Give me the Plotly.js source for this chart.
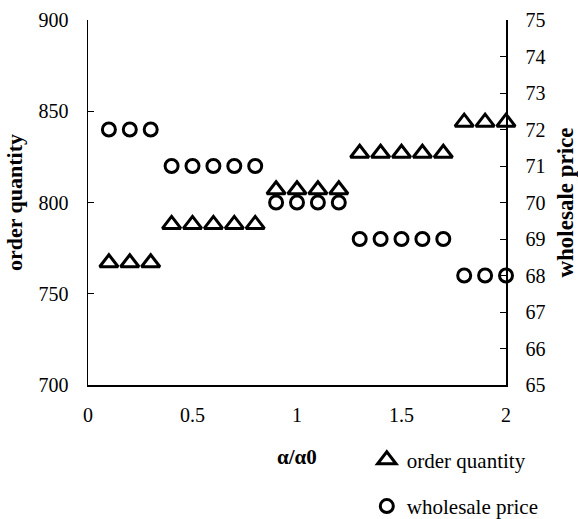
<!DOCTYPE html>
<html>
<head>
<meta charset="utf-8">
<script src="https://cdn.plot.ly/plotly-3.0.1.min.js"></script>
<style>html,body{margin:0;padding:0;background:#fff;}#chart{width:578px;height:519px;}</style>
</head>
<body>
<div id="chart"></div>
<script>
const ratio = [0.1, 0.2, 0.3, 0.4, 0.5, 0.6, 0.7, 0.8, 0.9, 1.0, 1.1, 1.2, 1.3, 1.4, 1.5, 1.6, 1.7, 1.8, 1.9, 2.0];
const orderQuantity = [767, 767, 767, 788, 788, 788, 788, 788, 807, 807, 807, 807, 827, 827, 827, 827, 827, 844, 844, 844];
const wholesalePrice = [72, 72, 72, 71, 71, 71, 71, 71, 70, 70, 70, 70, 69, 69, 69, 69, 69, 68, 68, 68];
const seriesNames = ["order quantity", "wholesale price"];
const xTitle = "α/α0";

const serif = "Liberation Serif, Times New Roman, serif";
const traces = [
  {
    x: ratio, y: orderQuantity, name: seriesNames[0], type: "scatter", mode: "markers",
    yaxis: "y", legendgroup: "a", cliponaxis: false,
    marker: {symbol: "triangle-up-open", size: 16, color: "#000", line: {width: 3, color: "#000"}}
  },
  {
    x: ratio, y: wholesalePrice, name: seriesNames[1], type: "scatter", mode: "markers",
    yaxis: "y2", legendgroup: "b", cliponaxis: false,
    marker: {symbol: "circle-open", size: 13, color: "#000", line: {width: 3, color: "#000"}}
  }
];
const layout = {
  width: 578, height: 519,
  margin: {l: 88, r: 72, t: 20, b: 134, autoexpand: false},
  paper_bgcolor: "#fff", plot_bgcolor: "#fff",
  font: {family: serif, size: 20, color: "#000"},
  showlegend: true,
  legend: {
    xref: "paper", yref: "container",
    x: 0.667, xanchor: "left", y: 0.153, yanchor: "top",
    font: {family: serif, size: 21, color: "#000"},
    tracegroupgap: 16, traceorder: "grouped", itemwidth: 30,
    bgcolor: "rgba(0,0,0,0)"
  },
  annotations: [{
    text: "<b>" + xTitle + "</b>", xref: "paper", yref: "paper",
    x: 0.5, y: -0.197, xanchor: "center", yanchor: "middle", showarrow: false,
    font: {family: serif, size: 21, color: "#000"}
  }],
  xaxis: {
    range: [0, 2], tickvals: [0, 0.5, 1, 1.5, 2], ticktext: ["0", "0.5", "1", "1.5", "2"],
    showgrid: false, zeroline: false, showline: true, linecolor: "#000", linewidth: 1.5,
    ticks: "", ticklabelstandoff: 11
  },
  yaxis: {
    range: [700, 900], tickvals: [700, 750, 800, 850, 900],
    showgrid: false, zeroline: false, showline: true, linecolor: "#000", linewidth: 1.5,
    ticks: "inside", ticklen: 6, tickcolor: "#000", ticklabelstandoff: 14,
    title: {text: "<b>order quantity</b>", font: {family: serif, size: 22}, standoff: 10}
  },
  yaxis2: {
    range: [65, 75], tickvals: [65, 66, 67, 68, 69, 70, 71, 72, 73, 74, 75],
    overlaying: "y", side: "right",
    showgrid: false, zeroline: false, showline: true, linecolor: "#000", linewidth: 1.5,
    ticks: "inside", ticklen: 6, tickcolor: "#000", ticklabelstandoff: 14,
    title: {text: "<b>wholesale price</b>", font: {family: serif, size: 23}, standoff: 16}
  }
};
Plotly.newPlot("chart", traces, layout, {displayModeBar: false, staticPlot: true});
</script>
</body>
</html>
